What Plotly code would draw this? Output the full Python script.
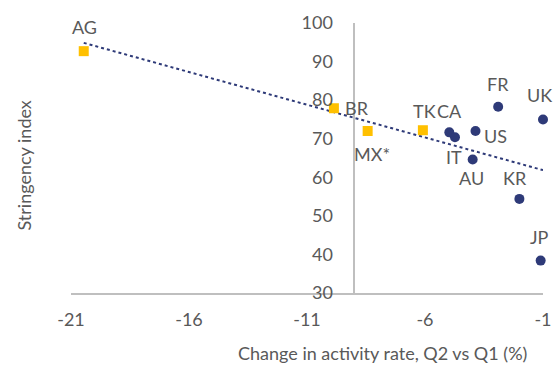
import numpy as np
import plotly.graph_objects as go

# Data
sq_names = ["AG", "BR", "MX*", "TK"]
sq_x = [-20.46, -9.86, -8.43, -6.09]
sq_y = [92.7, 77.9, 72.0, 72.2]

ci_names = ["CA", "IT", "US", "FR", "UK", "AU", "KR", "JP"]
ci_x = [-4.97, -4.73, -3.86, -2.9, -1.0, -3.98, -2.0, -1.1]
ci_y = [71.65, 70.4, 72.0, 78.3, 75.0, 64.6, 54.4, 38.4]

x_ticks = [-21, -16, -11, -6, -1]
y_ticks = [30, 40, 50, 60, 70, 80, 90, 100]

# label offsets (pixels) - styling
label_shift = {
    "AG": (1, 24), "BR": (23, 0), "MX*": (4, -23), "TK": (2, 19),
    "CA": (0, 21), "IT": (-1, -20), "US": (20, -5), "FR": (0, 23),
    "UK": (-4, 24), "AU": (-1, -18), "KR": (-4, 21), "JP": (-1, 24),
}

GREY = "#595959"
NAVY = "#2E3A78"
GOLD = "#FFC000"
FONT = "Lato"
FS = 18

all_x = np.array(sq_x + ci_x)
all_y = np.array(sq_y + ci_y)
slope, intercept = np.polyfit(all_x, all_y, 1)
tx = np.array([all_x.min(), all_x.max()])
ty = slope * tx + intercept

fig = go.Figure()
fig.add_trace(go.Scatter(x=tx, y=ty, mode="lines",
                         line=dict(color=NAVY, width=2, dash="dot"),
                         hoverinfo="skip", showlegend=False, cliponaxis=False))
fig.add_trace(go.Scatter(x=sq_x, y=sq_y, mode="markers",
                         marker=dict(symbol="square", size=10, color=GOLD),
                         showlegend=False, cliponaxis=False))
fig.add_trace(go.Scatter(x=ci_x, y=ci_y, mode="markers",
                         marker=dict(symbol="circle", size=10, color=NAVY),
                         showlegend=False, cliponaxis=False))

W, H = 553, 365
L, R, T, B = 70.5, 10, 22.5, 71.5
pw, ph = W - L - R, H - T - B

annotations = []
for n, x, y in zip(sq_names + ci_names, sq_x + ci_x, sq_y + ci_y):
    dx, dy = label_shift[n]
    annotations.append(dict(x=x, y=y, xref="x", yref="y", text=n, showarrow=False,
                            xshift=dx, yshift=dy, xanchor="center", yanchor="middle",
                            font=dict(family=FONT, size=FS, color=GREY)))
annotations.append(dict(x=(23 - L) / pw, y=1 - (166 - T) / ph, xref="paper", yref="paper",
                        text="Stringency index", showarrow=False, textangle=-90,
                        xanchor="center", yanchor="middle",
                        font=dict(family=FONT, size=FS, color=GREY)))
annotations.append(dict(x=(382 - L) / pw, y=1 - (354 - T) / ph, xref="paper", yref="paper",
                        text="Change in activity rate, Q2 vs Q1 (%)", showarrow=False,
                        xanchor="center", yanchor="middle",
                        font=dict(family=FONT, size=FS, color=GREY)))

fig.update_layout(
    width=W, height=H,
    margin=dict(l=L, r=R, t=T, b=B, pad=0),
    plot_bgcolor="white", paper_bgcolor="white",
    font=dict(family=FONT, size=FS, color=GREY),
    annotations=annotations,
    xaxis=dict(range=[-21, -1], tickvals=x_ticks, ticktext=[str(v) for v in x_ticks],
               showgrid=False, zeroline=False, showline=True, linecolor="#BFBFBF",
               linewidth=1.5, ticks="", ticklabelstandoff=10, automargin=False,
               tickfont=dict(family=FONT, size=FS, color=GREY)),
    yaxis=dict(range=[30, 100], tickvals=y_ticks, showgrid=False, zeroline=False,
               showline=True, linecolor="#BFBFBF", linewidth=1.5, ticks="",
               anchor="free", position=(-9 - (-21)) / 20, side="left",
               ticklabelstandoff=17, automargin=False,
               tickfont=dict(family=FONT, size=FS, color=GREY)),
)

fig.write_html("out.html", config={"displayModeBar": False},
               post_script="document.body.style.margin='0';document.body.style.overflow='hidden';")
